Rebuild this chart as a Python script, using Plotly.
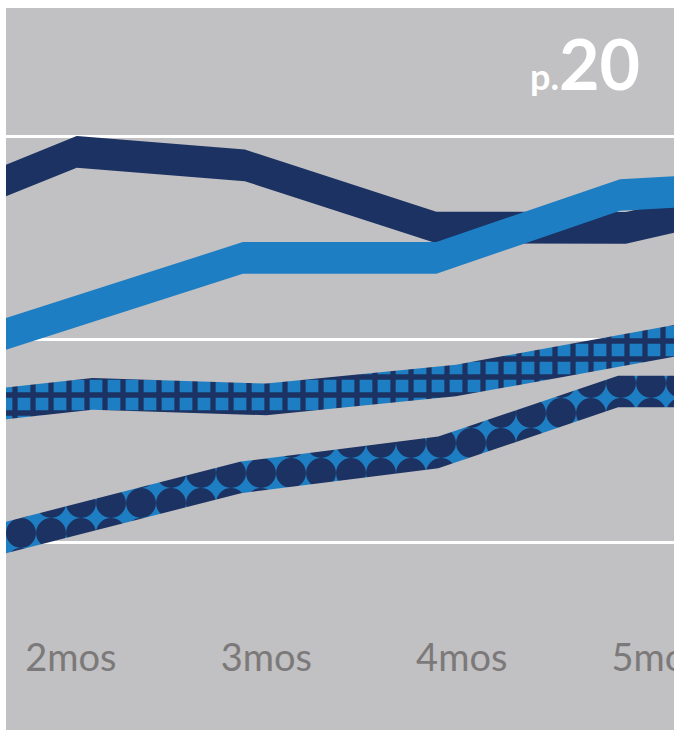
import plotly.graph_objects as go

# ---- data ----
month_ticks = [2, 3, 4, 5]
month_labels = ["2mos", "3mos", "4mos", "5mos"]

navy_x = [1.60, 2.03, 2.89, 3.87, 4.84, 5.20]
navy_y = [17.59, 19.26, 18.60, 15.54, 15.52, 16.31]

blue_x = [1.60, 2.88, 3.87, 4.81, 5.20]
blue_y = [10.09, 14.04, 14.04, 17.14, 17.35]

check_x = [1.60, 2.11, 3.00, 3.97, 5.20]
check_y = [6.80, 7.34, 7.07, 8.00, 10.15]

dot_x = [1.60, 2.87, 3.88, 4.80, 5.20]
dot_y = [0.10, 3.23, 4.46, 7.46, 7.46]

grid_vals = [0, 10, 20]

# ---- styles ----
NAVY = "#1b3262"
BLUE = "#1e7ec3"
GRAY = "#c1c0c2"
LABEL = "#7b7979"
HALF = 0.78  # half of band thickness in data units

W, H = 674, 730
ML, MT, MR, MB = 6, 8, 0, 130


def band(xs, ys, **kw):
    px = list(xs) + list(xs)[::-1]
    py = [v + HALF for v in ys] + [v - HALF for v in ys][::-1]
    return go.Scatter(x=px, y=py, mode="lines", fill="toself",
                      line=dict(width=0), hoverinfo="skip", showlegend=False, **kw)


fig = go.Figure()
fig.add_trace(band(navy_x, navy_y, fillcolor=NAVY))
fig.add_trace(band(blue_x, blue_y, fillcolor=BLUE))
fig.add_trace(band(check_x, check_y, fillcolor=BLUE,
                   fillpattern=dict(shape="+", fgcolor=NAVY, bgcolor=BLUE,
                                    size=18, solidity=0.5, fillmode="replace")))
fig.add_trace(band(dot_x, dot_y, fillcolor=BLUE,
                   fillpattern=dict(shape=".", fgcolor=NAVY, bgcolor=BLUE,
                                    size=30, solidity=0.78, fillmode="replace")))

plot_h = H - MT - MB
# white strips on the left and top edges of the picture
fig.add_shape(type="rect", xref="paper", yref="paper",
              x0=-ML / (W - ML - MR) - 0.01, x1=0,
              y0=-MB / plot_h - 0.05, y1=1 + MT / plot_h + 0.05,
              fillcolor="white", line=dict(width=0), layer="above")
fig.add_shape(type="rect", xref="paper", yref="paper",
              x0=-0.05, x1=1.05, y0=1, y1=1 + MT / plot_h + 0.05,
              fillcolor="white", line=dict(width=0), layer="above")

fig.add_annotation(xref="paper", yref="paper", x=(642 - ML) / (W - ML - MR),
                   y=(H - MB - 107) / plot_h, xanchor="right", yanchor="bottom",
                   text="<span style='font-size:36px'>p.</span>20", showarrow=False,
                   font=dict(family="Lato", size=70, color="white", weight="bold"))

fig.update_layout(
    width=W, height=H,
    margin=dict(l=ML, r=MR, t=MT, b=MB, pad=0, autoexpand=False),
    paper_bgcolor=GRAY, plot_bgcolor=GRAY,
    showlegend=False,
    xaxis=dict(range=[1.668, 5.086], tickvals=month_ticks, ticktext=month_labels,
               showgrid=False, zeroline=False, showline=False, ticks="",
               tickfont=dict(family="Lato", size=38, color=LABEL),
               ticklabelstandoff=32, ticklabeloverflow="allow", automargin=False,
               fixedrange=True),
    yaxis=dict(range=[-2.81, 26.35], tickvals=grid_vals, showticklabels=False,
               showgrid=True, gridcolor="white", gridwidth=3, zeroline=False,
               showline=False, ticks="", automargin=False, fixedrange=True),
)

fig.write_html("out.html")
